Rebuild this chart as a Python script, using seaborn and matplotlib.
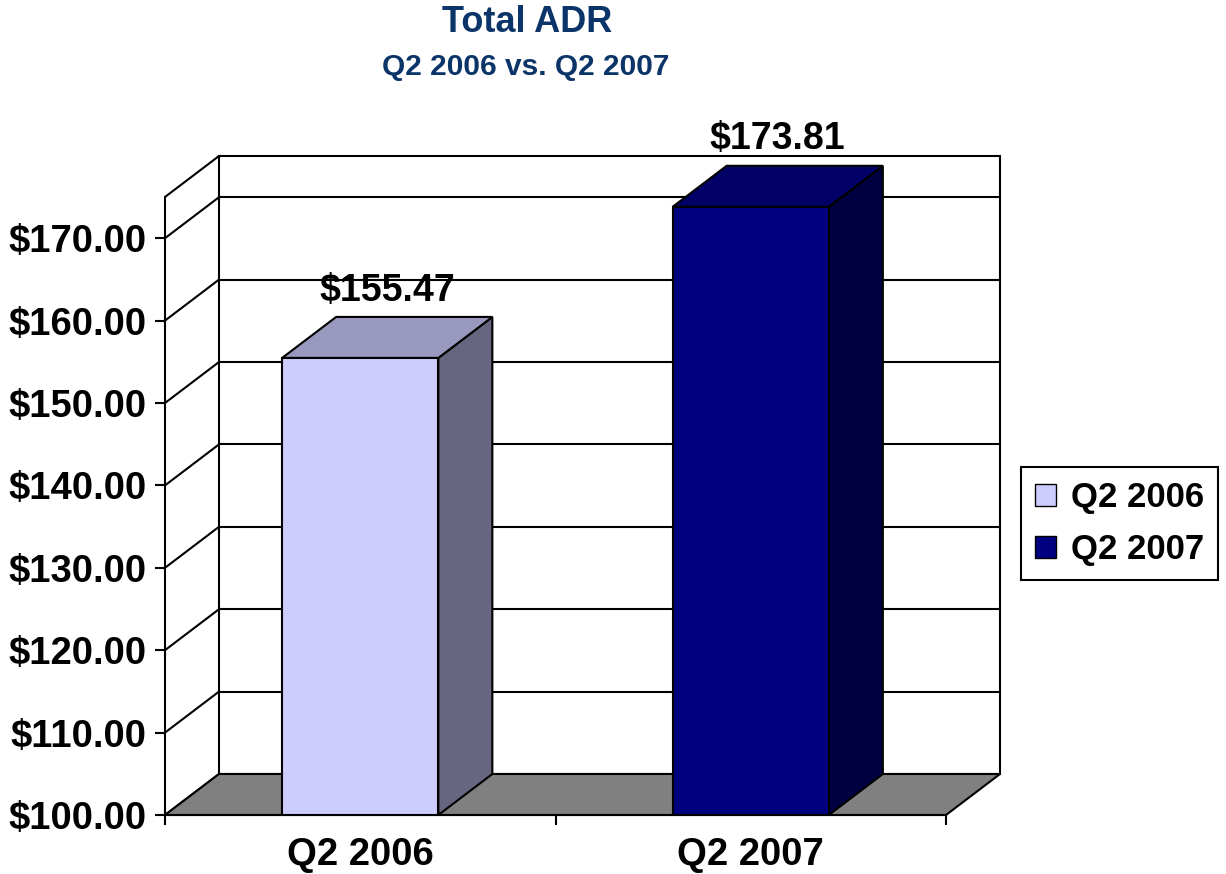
import matplotlib
matplotlib.use("Agg")
import matplotlib.pyplot as plt
from matplotlib.patches import Polygon, Patch
from matplotlib.ticker import FuncFormatter
import seaborn as sns
import pandas as pd

# data
quarters = ["Q2 2006", "Q2 2007"]
adr = [155.47, 173.81]
y_ticks = [100, 110, 120, 130, 140, 150, 160, 170]
y_min, y_max = 100, 175

# colours for the fake 3D boxes
front_colors = ["#CCCCFF", "#000080"]
top_colors = ["#9999C0", "#000066"]
side_colors = ["#666680", "#000040"]
title_color = "#0B3468"

sns.set_style("white")
plt.rcParams["font.family"] = ["Liberation Sans", "DejaVu Sans"]
plt.rcParams["font.weight"] = "bold"
plt.rcParams["text.color"] = "black"
plt.rcParams["xtick.color"] = "black"
plt.rcParams["ytick.color"] = "black"

fig = plt.figure(figsize=(12.26, 8.74), dpi=100)
ax = fig.add_axes([165 / 1226, 59 / 874, 781 / 1226, 618 / 874])

df = pd.DataFrame({"quarter": quarters, "adr": adr})
sns.barplot(data=df, x="quarter", y="adr", hue="quarter", palette=front_colors, saturation=1,
            width=0.4, edgecolor="black", linewidth=1.5, legend=False, ax=ax, zorder=3)
ax.set_xlim(-0.5, 1.5)
ax.set_ylim(y_min, y_max)
bars = list(ax.patches)

# depth offset of the 3D look (pixels -> data units)
bbox = ax.get_window_extent()
dx = 54 / bbox.width * 2.0
dy = 41 / bbox.height * (y_max - y_min)
x0, x1 = -0.5, 1.5

# back wall, floor and grid
ax.add_patch(Polygon([(x0 + dx, y_min + dy), (x1 + dx, y_min + dy), (x1 + dx, y_max + dy), (x0 + dx, y_max + dy)],
                     closed=True, fc="white", ec="black", lw=1.5, zorder=0.5, clip_on=False))
ax.add_patch(Polygon([(x0, y_min), (x1, y_min), (x1 + dx, y_min + dy), (x0 + dx, y_min + dy)],
                     closed=True, fc="#808080", ec="black", lw=1.5, zorder=1, clip_on=False))
for v in y_ticks[1:]:
    ax.plot([x0 + dx, x1 + dx], [v + dy, v + dy], color="black", lw=1.5, zorder=0.6, clip_on=False)
for v in y_ticks + [y_max]:
    ax.plot([x0, x0 + dx], [v, v + dy], color="black", lw=1.5, zorder=0.6, clip_on=False)

# side + top faces and value labels
for patch, top_c, side_c in zip(bars, top_colors, side_colors):
    bx, bw, h = patch.get_x(), patch.get_width(), patch.get_height()
    ax.add_patch(Polygon([(bx + bw, y_min), (bx + bw, h), (bx + bw + dx, h + dy), (bx + bw + dx, y_min + dy)],
                         closed=True, fc=side_c, ec="black", lw=1.5, zorder=2.5, clip_on=False))
    ax.add_patch(Polygon([(bx, h), (bx + bw, h), (bx + bw + dx, h + dy), (bx + dx, h + dy)],
                         closed=True, fc=top_c, ec="black", lw=1.5, zorder=2.5, clip_on=False))
    ax.annotate(f"${h:.2f}", xy=(bx + bw / 2 + dx / 2, h + dy), xytext=(0, 6), textcoords="offset points",
                ha="center", va="bottom", fontsize=27, fontweight="bold", zorder=5, annotation_clip=False)

for s in ["top", "right"]:
    ax.spines[s].set_visible(False)
for s in ["left", "bottom"]:
    ax.spines[s].set_color("black")
    ax.spines[s].set_linewidth(1.5)
    ax.spines[s].set_zorder(4)

ax.set_yticks(y_ticks)
ax.yaxis.set_major_formatter(FuncFormatter(lambda v, _: f"${v:.2f}"))
ax.tick_params(axis="y", direction="out", length=7, width=1.5, pad=6, labelsize=27.5, left=True)
ax.set_xticks([-0.5, 0.5, 1.5])
ax.set_xticklabels([])
ax.set_xticks([0, 1], minor=True)
ax.set_xticklabels(quarters, minor=True)
ax.tick_params(axis="x", which="major", direction="out", length=7, width=1.5, bottom=True)
ax.tick_params(axis="x", which="minor", length=0, pad=16, labelsize=27.5)
ax.set_xlabel("")
ax.set_ylabel("")

fig.text(527 / 1226, 1 - 22 / 874, "Total ADR", ha="center", va="center",
         fontsize=26, fontweight="bold", color=title_color)
fig.text(526 / 1226, 1 - 67 / 874, "Q2 2006 vs. Q2 2007", ha="center", va="center",
         fontsize=21.5, fontweight="bold", color=title_color)

handles = [Patch(facecolor=c, edgecolor="black", linewidth=1) for c in front_colors]
leg = fig.legend(handles, quarters, loc="center left", bbox_to_anchor=(1021 / 1226, 1 - 523.5 / 874),
                 fontsize=25, frameon=True, fancybox=False, edgecolor="black", framealpha=1,
                 handlelength=0.6, handleheight=0.6, handletextpad=0.45, borderpad=0.4,
                 labelspacing=0.55, borderaxespad=0)
leg.get_frame().set_linewidth(1.5)

fig.savefig("out.png", dpi=100)
